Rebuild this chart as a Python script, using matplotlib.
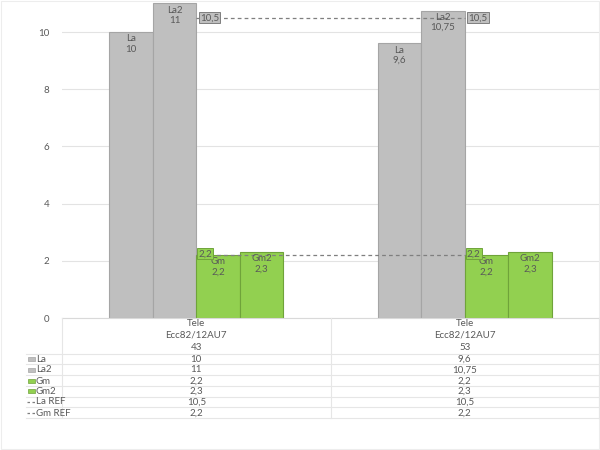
import numpy as np
import matplotlib.pyplot as plt
from matplotlib.patches import Rectangle
from matplotlib.lines import Line2D
import matplotlib.transforms as mtransforms

plt.rcParams['font.family'] = ['Lato', 'DejaVu Sans']

cat_level1 = ['Tele', 'Tele']
cat_level2 = ['Ecc82/12AU7', 'Ecc82/12AU7']
cat_level3 = ['43', '53']
la = [10, 9.6]
la2 = [11, 10.75]
gm = [2.2, 2.2]
gm2 = [2.3, 2.3]
la_ref = [10.5, 10.5]
gm_ref = [2.2, 2.2]

bar_series = [('La', la), ('La2', la2), ('Gm', gm), ('Gm2', gm2)]
line_series = [('La REF', la_ref), ('Gm REF', gm_ref)]

gray = '#BFBFBF'
gray_edge = '#A5A5A5'
green = '#92D050'
green_edge = '#6FA33A'
txt = '#595959'
grid_c = '#E3E3E3'
FS = 7

W, H = 600, 450


def fy(py):
    return 1 - py / H


def fx(px):
    return px / W


def fmt(v):
    return ('%g' % v).replace('.', ',')


fig = plt.figure(figsize=(6, 4.5), dpi=100)
ax = fig.add_axes([fx(62), fy(318), fx(599) - fx(62), fy(0) - fy(318)])

x = np.arange(len(la))
w = 0.162
colors = [(gray, gray_edge), (gray, gray_edge), (green, green_edge), (green, green_edge)]
for i, ((name, vals), (fc, ec)) in enumerate(zip(bar_series, colors)):
    off = (i - 1.5) * w
    ax.bar(x + off, vals, w, color=fc, edgecolor=ec, linewidth=0.8, zorder=2)
    for xi, v in zip(x, vals):
        ax.annotate(name + '\n' + fmt(v), (xi + off, v), xytext=(0, -1.5),
                    textcoords='offset points', ha='center', va='top',
                    fontsize=FS, color=txt, linespacing=1.2, zorder=4)

ax.plot(x, la_ref, ls=(0, (3, 2.5)), color='#7F7F7F', lw=0.9, zorder=3)
ax.plot(x, gm_ref, ls=(0, (3, 2.5)), color='#7F7F7F', lw=0.9, zorder=3)
for xi, v in zip(x, la_ref):
    ax.annotate(fmt(v), (xi, v), xytext=(2.5, 0), textcoords='offset points',
                ha='left', va='center', fontsize=FS, color=txt, zorder=5,
                bbox=dict(boxstyle='square,pad=0.12', fc=gray, ec='#7F7F7F', lw=0.7))
for xi, v in zip(x, gm_ref):
    ax.annotate(fmt(v), (xi, v), xytext=(1.5, 1), textcoords='offset points',
                ha='left', va='center', fontsize=FS, color=txt, zorder=5,
                bbox=dict(boxstyle='square,pad=0.12', fc=green, ec=green_edge, lw=0.7))

ax.set_xlim(-0.5, 1.5)
ax.set_ylim(0, 11.12)
ax.set_yticks([0, 2, 4, 6, 8, 10])
ax.tick_params(axis='y', length=0, labelsize=FS, labelcolor=txt, pad=9)
ax.set_xticks([])
ax.grid(axis='y', color=grid_c, lw=0.8, zorder=0)
for s in ax.spines.values():
    s.set_visible(False)

# data table below the axis
tr = mtransforms.blended_transform_factory(ax.transData, fig.transFigure)
head_rows = [cat_level1, cat_level2, cat_level3]
head_y = [323, 335, 347]
for row, py in zip(head_rows, head_y):
    for xi, t in zip(x, row):
        fig.text(xi, fy(py), t, transform=tr, ha='center', va='center',
                 fontsize=FS, color=txt)

row_y = [359, 370, 381, 391, 402, 413]
rows = bar_series + line_series
for (name, vals), py in zip(rows, row_y):
    for xi, v in zip(x, vals):
        fig.text(xi, fy(py), fmt(v), transform=tr, ha='center', va='center',
                 fontsize=FS, color=txt)
    fig.text(fx(36), fy(py), name, ha='left', va='center', fontsize=FS, color=txt)

for i, py in enumerate(row_y[:4]):
    fc, ec = colors[i]
    fig.add_artist(Rectangle((fx(28), fy(py + 2)), fx(7), fy(py - 2) - fy(py + 2),
                             transform=fig.transFigure, fc=fc, ec=ec, lw=0.5))
for py in row_y[4:]:
    fig.add_artist(Line2D([fx(27), fx(35.5)], [fy(py), fy(py)], transform=fig.transFigure,
                          color='#7F7F7F', lw=0.9, ls=(0, (2, 2))))

line_c = '#E6E6E6'
fig.add_artist(Line2D([fx(62), fx(599)], [fy(318), fy(318)], transform=fig.transFigure,
                      color='#D9D9D9', lw=0.8))
for py in [353.7, 364.3, 375.3, 386, 396.7, 407.3, 418.3]:
    fig.add_artist(Line2D([fx(26), fx(599)], [fy(py), fy(py)], transform=fig.transFigure,
                          color=line_c, lw=0.8))
for xd in [-0.5, 0.5, 1.5]:
    fig.add_artist(Line2D([xd, xd], [fy(318), fy(418.3)], transform=tr,
                          color=line_c, lw=0.8))

fig.add_artist(Rectangle((0.002, 0.002), 0.996, 0.996, transform=fig.transFigure,
                         fill=False, ec='#EDEDED', lw=0.8))

fig.savefig('out.png', dpi=100)
